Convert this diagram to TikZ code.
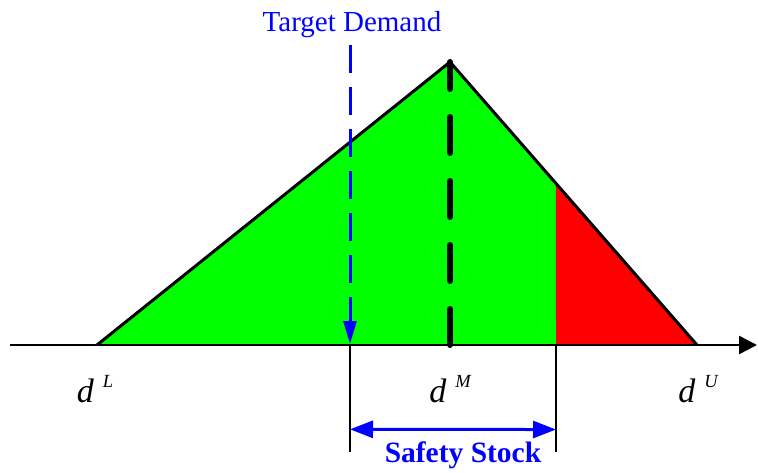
\documentclass[tikz,border=0pt]{standalone}
\usepackage{fontspec}
\setmainfont{Liberation Serif}
\usetikzlibrary{arrows.meta,calc}
\definecolor{fGreen}{HTML}{00FF00}
\definecolor{fRed}{HTML}{FF0000}
\definecolor{tBlue}{HTML}{0000FF}
\tikzset{
  edgeline/.style={draw=black, line width=3pt, line join=round},
  axisline/.style={-{Triangle[length=18pt,width=18pt]}, line width=2.6pt},
  modeline/.style={line width=6pt, line cap=round, dash pattern=on 36pt off 28pt},
  targetarrow/.style={-{Triangle[length=23pt,width=13pt]}, tBlue, line width=3pt,
    dash pattern=on 28pt off 14pt},
  ssarrow/.style={{Triangle[length=23pt,width=17pt]}-{Triangle[length=23pt,width=17pt]},
    tBlue, line width=3pt},
  guideline/.style={line width=1.6pt},
  dlabel/.style={anchor=base, inner sep=0pt},
}
\newcommand{\dsym}[1]{{\fontsize{34}{34}\selectfont\itshape d}\hspace{9pt}\raisebox{15pt}{\fontsize{18.5}{18.5}\selectfont\itshape #1}}

\begin{document}
\begin{tikzpicture}[x=1pt, y=-1pt, >=Stealth]
  \useasboundingbox (0,0) rectangle (758,473);
  % triangle corners
  \coordinate (dL) at (97,345);
  \coordinate (apex) at (450,62);
  \coordinate (dM) at (450,345);
  \coordinate (dU) at (697,345);
  \coordinate (cut) at ($(apex)!0.429!(dU)$);
  \coordinate (cutBase) at (556,345);
  \coordinate (tgtTop) at (350,45);
  \coordinate (tgtBase) at (350,344);
  \coordinate (tgtFoot) at (350,452);
  \coordinate (cutFoot) at (556,452);
  \coordinate (axisL) at (10,345);
  \coordinate (axisR) at (757,345);
  % areas
  \fill[fGreen] (dL) -- (apex) -- (cut) -- (cutBase) -- cycle;
  \fill[fRed] (cut) -- (dU) -- (cutBase) -- cycle;
  \draw[edgeline] (dL) -- (apex) -- (dU);
  \draw[axisline] (axisL) -- (axisR);
  \draw[modeline] (dM) -- (apex);
  \draw[targetarrow] (tgtTop) -- (tgtBase);
  % safety stock span
  \draw[guideline] (tgtBase) -- (tgtFoot);
  \draw[guideline] (cutBase) -- (cutFoot);
  \draw[ssarrow] ($(tgtBase)!0.79!(tgtFoot)$) -- ($(cutBase)!0.79!(cutFoot)$);
  % labels
  \node[dlabel] (lblL) at (95,402) {\dsym{L}};
  \node[dlabel] (lblM) at (450,402) {\dsym{M}};
  \node[dlabel] (lblU) at (698,402) {\dsym{U}};
  \node[dlabel, text=tBlue, font=\fontsize{29}{29}\selectfont] (lblTarget) at (352,32) {Target Demand};
  \node[dlabel, text=tBlue, font=\fontsize{29.5}{29.5}\selectfont\bfseries] (lblSafety) at (463,462.5) {Safety Stock};
\end{tikzpicture}
\end{document}
